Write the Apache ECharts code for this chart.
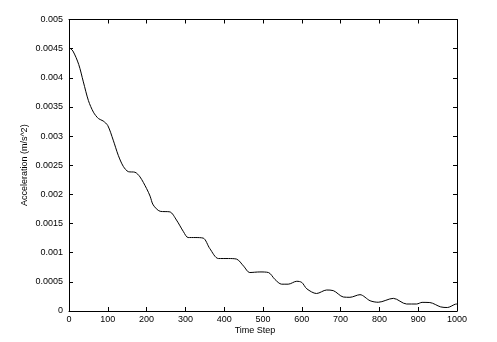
<!DOCTYPE html>
<html>
<head>
<meta charset="utf-8">
<script src="https://cdn.jsdelivr.net/npm/echarts@6/dist/echarts.min.js"></script>
<style>html,body{margin:0;padding:0;background:#fff;}#c{width:497px;height:342px;}</style>
</head>
<body>
<div id="c"></div>
<script>
const timeSteps = [0,10,25,37,50,63,76,88,100,114,127,140,153,170,183,200,209,217,235,260,277,295,307,325,346,363,385,411,432,450,466,492,514,531,548,565,587,600,613,638,664,681,707,724,750,776,797,836,870,896,910,930,958,975,995,1000];
const accel = [0.00452,0.00446,0.00423,0.00393,0.00361,0.00341,0.00330,0.00326,0.00318,0.00293,0.00267,0.00248,0.00239,0.00238,0.00230,0.00210,0.00197,0.00182,0.00171,0.00170,0.00156,0.00136,0.00126,0.00126,0.00125,0.00107,0.00090,0.00090,0.00089,0.00077,0.00066,0.00067,0.00066,0.00054,0.00046,0.00046,0.00051,0.00049,0.00038,0.00030,0.00036,0.00035,0.00024,0.000235,0.00028,0.000176,0.00015,0.000217,0.00012,0.00012,0.000148,0.000145,0.00007,0.00006,0.000115,0.00012];
const xLabel = 'Time Step';
const yLabel = 'Acceleration (m/s^2)';

const font = 'Liberation Sans';
const pts = timeSteps.map((t, i) => [t, accel[i]]);
const chart = echarts.init(document.getElementById('c'), null, {renderer: 'canvas'});
const axLine = {show: true, onZero: false, lineStyle: {color: '#000', width: 1}};
const ticks = {show: true, inside: true, length: 4, lineStyle: {color: '#000', width: 1}};
chart.setOption({
  animation: false,
  backgroundColor: '#fff',
  grid: {left: 69, right: 40, top: 19.5, bottom: 31},
  xAxis: [{
    type: 'value', min: 0, max: 1000, interval: 100, position: 'bottom',
    axisLine: axLine, axisTick: ticks, splitLine: {show: false},
    axisLabel: {color: '#000', fontFamily: font, fontSize: 9, margin: 4, formatter: v => String(v)},
    name: xLabel, nameLocation: 'middle', nameGap: 15, nameMoveOverlap: false,
    nameTextStyle: {color: '#000', fontFamily: font, fontSize: 9, padding: [0, 16, 0, 0]}
  }, {
    type: 'value', min: 0, max: 1000, interval: 100, position: 'top',
    axisLine: axLine, axisTick: ticks, splitLine: {show: false}, axisLabel: {show: false}
  }],
  yAxis: [{
    type: 'value', min: 0, max: 0.005, interval: 0.0005, position: 'left',
    axisLine: axLine, axisTick: ticks, splitLine: {show: false},
    axisLabel: {color: '#000', fontFamily: font, fontSize: 9, margin: 6},
    name: yLabel, nameLocation: 'middle', nameGap: 40, nameMoveOverlap: false,
    nameTextStyle: {color: '#000', fontFamily: font, fontSize: 9}
  }, {
    type: 'value', min: 0, max: 0.005, interval: 0.0005, position: 'right',
    axisLine: axLine, axisTick: ticks, splitLine: {show: false}, axisLabel: {show: false}
  }],
  series: [{
    type: 'line', data: pts, smooth: 0.3, showSymbol: false, symbol: 'none',
    lineStyle: {color: '#000', width: 1}, xAxisIndex: 0, yAxisIndex: 0
  }]
});
</script>
</body>
</html>
